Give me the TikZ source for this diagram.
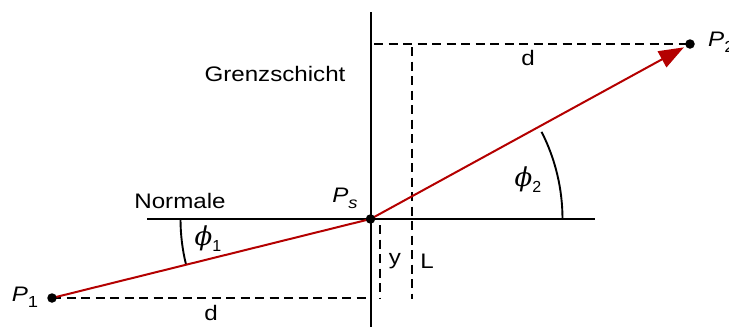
\documentclass[tikz,border=0pt]{standalone}
\usepackage{graphicx}
\usepackage{fontspec}
\setmainfont{Liberation Sans}
\newfontfamily\phifont{DejaVu Serif}
\usetikzlibrary{arrows.meta,backgrounds}
\definecolor{rayred}{RGB}{180,0,0}
\newcommand\stx[1]{\scalebox{1.15}[1]{#1}}
\newcommand\subx[1]{\raisebox{-0.28em}{\fontsize{16}{16}\selectfont #1}}
\newcommand\phix{{\phifont\itshape\fontsize{26}{28}\selectfont ϕ}}
\begin{document}
\begin{tikzpicture}[x=1pt,y=-1pt,
  every node/.style={font=\fontsize{21}{24}\selectfont, inner sep=0pt},
  solidline/.style={line width=2pt, black},
  dashline/.style={line width=2pt, black, dash pattern=on 9pt off 5.5pt},
  rayline/.style={line width=2pt, rayred},
  arcline/.style={line width=1.9pt, black},
  dot/.style={circle, fill=black, inner sep=0pt, minimum size=9.5pt}]
\useasboundingbox (0,0) rectangle (729,327);
% points
\node[dot] (p1) at (52,298) {};
\node[dot] (p2) at (690,44) {};
\node[dot] (ps) at (370.5,219) {};
\begin{pgfonlayer}{background}
% boundary and normal
\coordinate (bt) at (370.5,12);
\coordinate (bb) at (370.5,327);
\coordinate (nl) at (147,219);
\coordinate (nr) at (595,219);
\draw[solidline] (bt) -- (bb);
\draw[solidline] (nl) -- (nr);
% dashed construction lines
\coordinate (d1e) at (368,298);
\coordinate (d2s) at (374,44);
\coordinate (ya) at (380,225);
\coordinate (yb) at (380,299);
\coordinate (la) at (411.5,47);
\coordinate (lb) at (411.5,299);
\draw[dashline] (p1.center) -- (d1e);
\draw[dashline] (d2s) -- (p2.center);
\draw[dashline] (ya) -- (yb);
\draw[dashline] (la) -- (lb);
% angle arcs
\draw[arcline] (ps.center) ++(180:190) arc[start angle=180, end angle=166, radius=190];
\draw[arcline] (ps.center) ++(0:192) arc[start angle=0, end angle=-27, radius=192];
% ray
\draw[rayline] (p1.center) -- (ps.center);
\draw[rayline, -{Triangle[length=25pt,width=18pt]}, shorten >=2pt] (ps.center) -- (p2);
\end{pgfonlayer}
% labels
\node (grenz) at (275,74) {\stx{Grenzschicht}};
\node (norm) at (180,201) {\stx{Normale}};
\node (lps) at (345,198) {\stx{\textit{P}\subx{\textit{s}}}};
\node (lp1) at (25,297) {\stx{\textit{P}\subx{1}}};
\node[anchor=west] (lp2) at (708,42) {\stx{\textit{P}\subx{2}}};
\node (phi1) at (208,239) {\phix\subx{1}};
\node (phi2) at (528,180) {\phix\subx{2}};
\node (dbot) at (211,313) {\stx{d}};
\node (dtop) at (528,58) {\stx{d}};
\node (ly) at (395,261) {\stx{y}};
\node (lL) at (427,261) {\stx{L}};
\end{tikzpicture}
\end{document}
